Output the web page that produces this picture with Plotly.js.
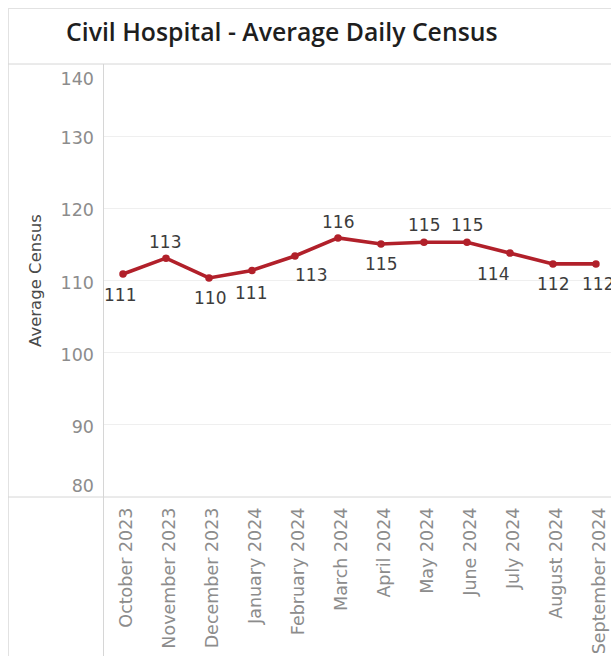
<!DOCTYPE html>
<html>
<head>
<meta charset="utf-8">
<script src="https://cdn.plot.ly/plotly-3.0.1.min.js"></script>
<style>
  html, body { margin: 0; padding: 0; background: #ffffff; }
  #chart { width: 611px; height: 656px; }
</style>
</head>
<body>
<div id="chart"></div>
<script>
// Monthly average daily census, Civil Hospital
const months = [
  'October 2023', 'November 2023', 'December 2023', 'January 2024',
  'February 2024', 'March 2024', 'April 2024', 'May 2024',
  'June 2024', 'July 2024', 'August 2024', 'September 2024'
];
const census = [110.9, 113.1, 110.35, 111.4, 113.4, 115.9, 115.05, 115.3, 115.3, 113.8, 112.3, 112.3];

// y-axis ticks (inner ticks sit on the gridlines, the two end ticks are nudged inside the frame)
const innerTicks = [90, 100, 110, 120, 130];
const topTick = [140];
const bottomTick = [80];
const yRange = [80, 140];

// value-label offsets from each point, in pixels (right / down)
const labelDx = [-3, -1, 1, -1, 16, 0, 0, 0, 0, -17, 0, 2];
const labelDy = [21, -16, 20, 23, 19, -16, 20, -17, -17, 21, 20, 20];

const W = 611, H = 656;
const M = { l: 104, r: 0, t: 64, b: 159 };
const plotW = W - M.l - M.r, plotH = H - M.t - M.b;
const px = x => (x - M.l) / plotW;            // page x -> paper x
const py = y => (H - M.b - y) / plotH;         // page y -> paper y

const red = '#b1202a';
const numFont = 'DejaVu Sans';
const tickFont = { family: numFont, size: 17.5, color: '#8c8c8c' };

const traces = [
  {
    type: 'scatter',
    mode: 'lines+markers',
    x: months,
    y: census,
    line: { color: red, width: 3.6 },
    marker: { color: red, size: 7.5 },
    hoverinfo: 'x+y',
    showlegend: false
  },
  // carriers for the overlaid label-only axes
  { type: 'scatter', x: [], y: [], yaxis: 'y2', showlegend: false, hoverinfo: 'skip' },
  { type: 'scatter', x: [], y: [], yaxis: 'y3', showlegend: false, hoverinfo: 'skip' }
];

// rounded value labels beside every point
const valueLabels = months.map((m, i) => ({
  x: m,
  y: census[i],
  xref: 'x',
  yref: 'y',
  text: String(Math.round(census[i])),
  showarrow: false,
  xanchor: 'center',
  yanchor: 'middle',
  xshift: labelDx[i],
  yshift: -labelDy[i],
  font: { family: numFont, size: 17, color: '#3c3c3c' }
}));

const edgeAxis = (vals, shift) => ({
  overlaying: 'y',
  anchor: 'x',
  side: 'left',
  range: yRange,
  tickmode: 'array',
  tickvals: vals,
  ticktext: vals.map(String),
  tickfont: tickFont,
  ticklabelshift: shift,
  ticklabelstandoff: 9,
  showgrid: false,
  zeroline: false,
  showline: false,
  ticks: '',
  fixedrange: true
});

const lineColor = '#d6d6d6';
const seg = (x0, y0, x1, y1, color) => ({
  type: 'line', xref: 'paper', yref: 'paper',
  x0: px(x0), y0: py(y0), x1: px(x1), y1: py(y1),
  line: { color: color || lineColor, width: 1 }, layer: 'above'
});

const layout = {
  width: W,
  height: H,
  margin: { l: M.l, r: M.r, t: M.t, b: M.b, pad: 0 },
  paper_bgcolor: '#ffffff',
  plot_bgcolor: '#ffffff',
  title: {
    text: 'Civil Hospital - Average Daily Census',
    font: { family: 'Open Sans', size: 24.8, color: '#1e1e1e', weight: 600 },
    xref: 'container', yref: 'container',
    x: 66 / W, xanchor: 'left',
    y: 1 - 32 / H, yanchor: 'middle'
  },
  xaxis: {
    type: 'category',
    range: [-0.442, 11.35],
    tickangle: -90,
    tickfont: tickFont,
    ticklabelstandoff: 6,
    ticklabelshift: 3,
    showgrid: false,
    zeroline: false,
    showline: false,
    ticks: '',
    fixedrange: true
  },
  yaxis: {
    range: yRange,
    tickmode: 'array',
    tickvals: innerTicks,
    ticktext: innerTicks.map(String),
    tickfont: tickFont,
    ticklabelshift: 2,
    ticklabelstandoff: 9,
    gridcolor: '#efefef',
    gridwidth: 1,
    zeroline: false,
    showline: false,
    ticks: '',
    fixedrange: true,
    title: {
      text: 'Average Census',
      font: { family: 'DejaVu Sans', size: 16.5, color: '#4a4a4a' },
      standoff: 14
    }
  },
  yaxis2: edgeAxis(topTick, 15),
  yaxis3: edgeAxis(bottomTick, -11),
  annotations: valueLabels,
  shapes: [
    seg(8, 8.5, W, 8.5, '#e2e2e2'),        // outer frame, top
    seg(8.5, 8, 8.5, H, '#e2e2e2'),        // outer frame, left
    seg(8, 64, W, 64),                     // title divider
    seg(103.5, 64, 103.5, H),              // value axis rule
    seg(8, 497, W, 497)                    // category axis rule
  ]
};

Plotly.newPlot('chart', traces, layout, { displayModeBar: false, staticPlot: true });
</script>
</body>
</html>
